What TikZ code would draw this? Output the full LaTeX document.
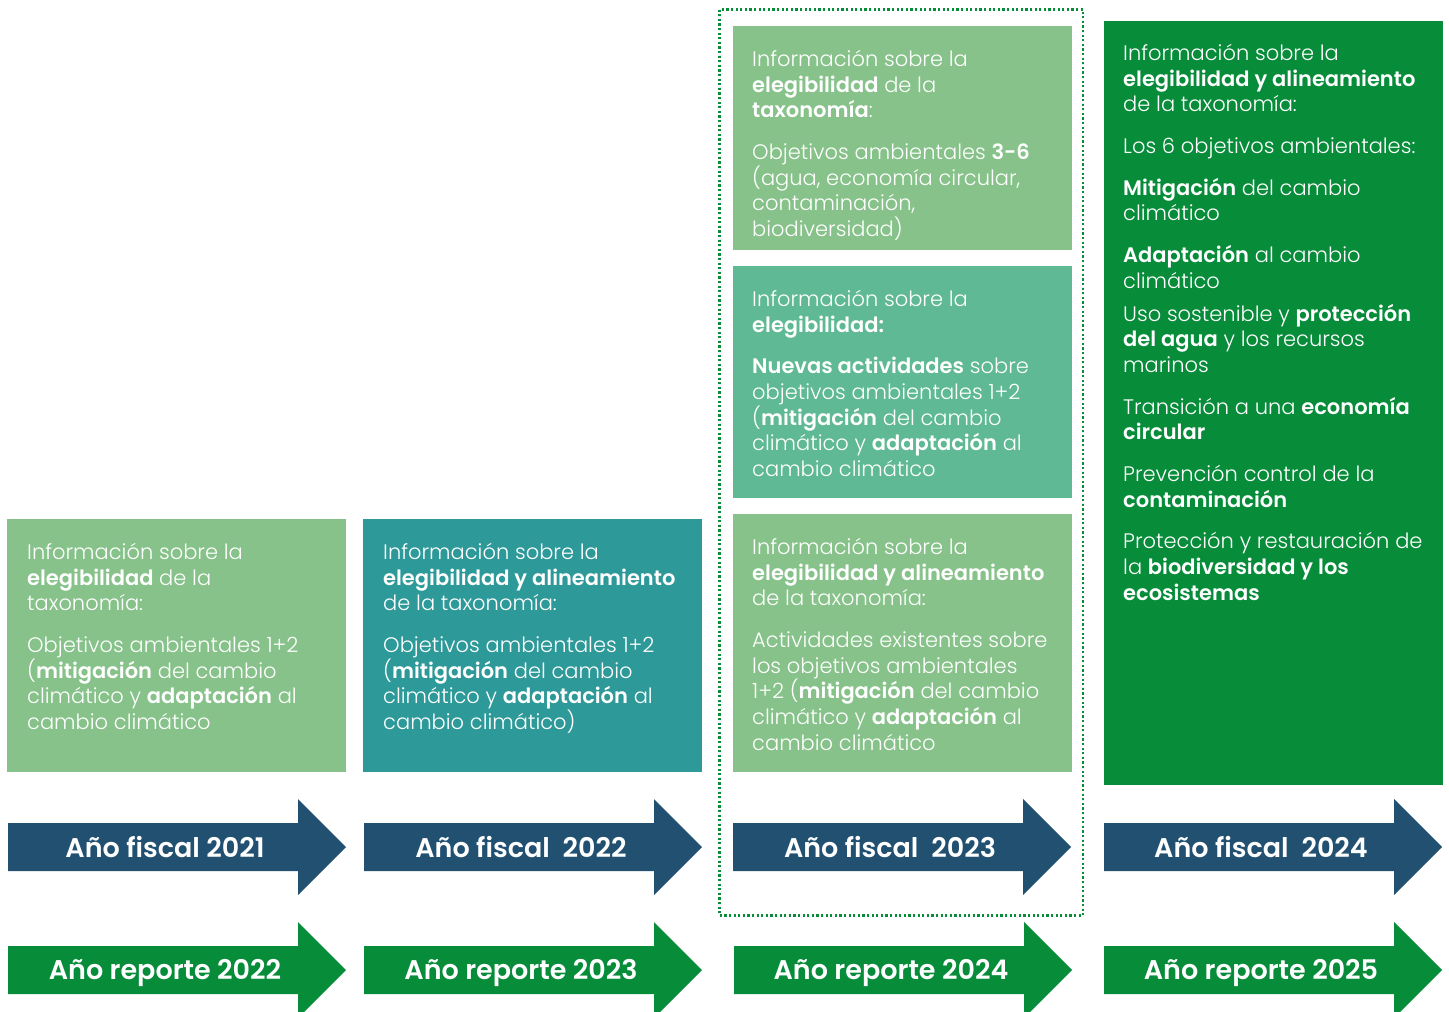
\documentclass[tikz,border=0pt]{standalone}
\usepackage{fontspec}
\setmainfont{Poppins}[UprightFont=* Light, BoldFont=* SemiBold]
\definecolor{lgreen}{HTML}{86C289}
\definecolor{tealbox}{HTML}{2E9999}
\definecolor{mgreen}{HTML}{5EB994}
\definecolor{dgreen}{HTML}{078C3A}
\definecolor{navy}{HTML}{215071}
\tikzset{
  infotext/.style={inner sep=0pt, anchor=north west, align=left, text=white,
    font=\fontsize{21}{25.7}\selectfont},
  arrowtext/.style={inner sep=0pt, text=white, font=\fontsize{27}{32}\selectfont\bfseries},
}
\newcommand{\yeararrow}[6]{% #1 name, #2 x-left, #3 y-center, #4 colour, #5 label, #6 text shift
  \fill[#4] (#2,#3-24) -- (#2+290,#3-24) -- (#2+290,#3-48) -- (#2+338,#3)
     -- (#2+290,#3+48) -- (#2+290,#3+24) -- (#2,#3+24) -- cycle;
  \node[arrowtext] (#1) at (#2+157,#3+#6) {#5};
}
\begin{document}
\begin{tikzpicture}[x=1pt,y=-1pt]
\useasboundingbox (0,0) rectangle (1449,1012);
% boxes
\fill[lgreen]   (7,519) rectangle (346,772);
\fill[tealbox]  (363,519) rectangle (702,772);
\fill[lgreen]   (733,26) rectangle (1072,250);
\fill[mgreen]   (733,266) rectangle (1072,498);
\fill[lgreen]   (733,514) rectangle (1072,772);
\fill[dgreen]   (1104,21) rectangle (1443,785);
% dotted frame
\draw[dgreen, line width=2.2pt, dash pattern=on 2.2pt off 2.4pt] (719.5,9.5) rectangle (1083,915.5);
% texts
\node[infotext] (t1) at (27,543) {Información sobre la\\
\textbf{elegibilidad} de la\\
taxonomía:\\[16pt]
Objetivos ambientales 1+2\\
(\textbf{mitigación} del cambio\\
climático y \textbf{adaptación} al\\
cambio climático};
\node[infotext] (t2) at (383,543) {Información sobre la\\
\textbf{elegibilidad y alineamiento}\\
de la taxonomía:\\[16pt]
Objetivos ambientales 1+2\\
(\textbf{mitigación} del cambio\\
climático y \textbf{adaptación} al\\
cambio climático)};
\node[infotext] (t3a) at (752,50) {Información sobre la\\
\textbf{elegibilidad} de la\\
\textbf{taxonomía}:\\[16pt]
Objetivos ambientales \textbf{3-6}\\
(agua, economía circular,\\
contaminación,\\
biodiversidad)};
\node[infotext] (t3b) at (752,290) {Información sobre la\\
\textbf{elegibilidad:}\\[16pt]
\textbf{Nuevas actividades} sobre\\
objetivos ambientales 1+2\\
(\textbf{mitigación} del cambio\\
climático y \textbf{adaptación} al\\
cambio climático};
\node[infotext] (t3c) at (752,538) {Información sobre la\\
\textbf{elegibilidad y alineamiento}\\
de la taxonomía:\\[16pt]
Actividades existentes sobre\\
los objetivos ambientales\\
1+2 (\textbf{mitigación} del cambio\\
climático y \textbf{adaptación} al\\
cambio climático};
\node[infotext] (t4) at (1123,44) {Información sobre la\\
\textbf{elegibilidad y alineamiento}\\
de la taxonomía:\\[16pt]
Los 6 objetivos ambientales:\\[16pt]
\textbf{Mitigación} del cambio\\
climático\\[16pt]
\textbf{Adaptación} al cambio\\
climático\\[7pt]
Uso sostenible y \textbf{protección}\\
\textbf{del agua} y los recursos\\
marinos\\[16pt]
Transición a una \textbf{economía}\\
\textbf{circular}\\[16pt]
Prevención control de la\\
\textbf{contaminación}\\[16pt]
Protección y restauración de\\
la \textbf{biodiversidad y los}\\
\textbf{ecosistemas}};
% arrows
\yeararrow{f1}{8}{847}{navy}{Año fiscal 2021}{0}
\yeararrow{f2}{364}{847}{navy}{Año fiscal\ \ 2022}{0}
\yeararrow{f3}{733}{847}{navy}{Año fiscal\ \ 2023}{0}
\yeararrow{f4}{1104}{847}{navy}{Año fiscal\ \ 2024}{0}
\yeararrow{r1}{8}{970}{dgreen}{Año reporte 2022}{3}
\yeararrow{r2}{364}{970}{dgreen}{Año reporte 2023}{3}
\yeararrow{r3}{734}{970}{dgreen}{Año reporte 2024}{3}
\yeararrow{r4}{1104}{970}{dgreen}{Año reporte 2025}{3}
\end{tikzpicture}
\end{document}
